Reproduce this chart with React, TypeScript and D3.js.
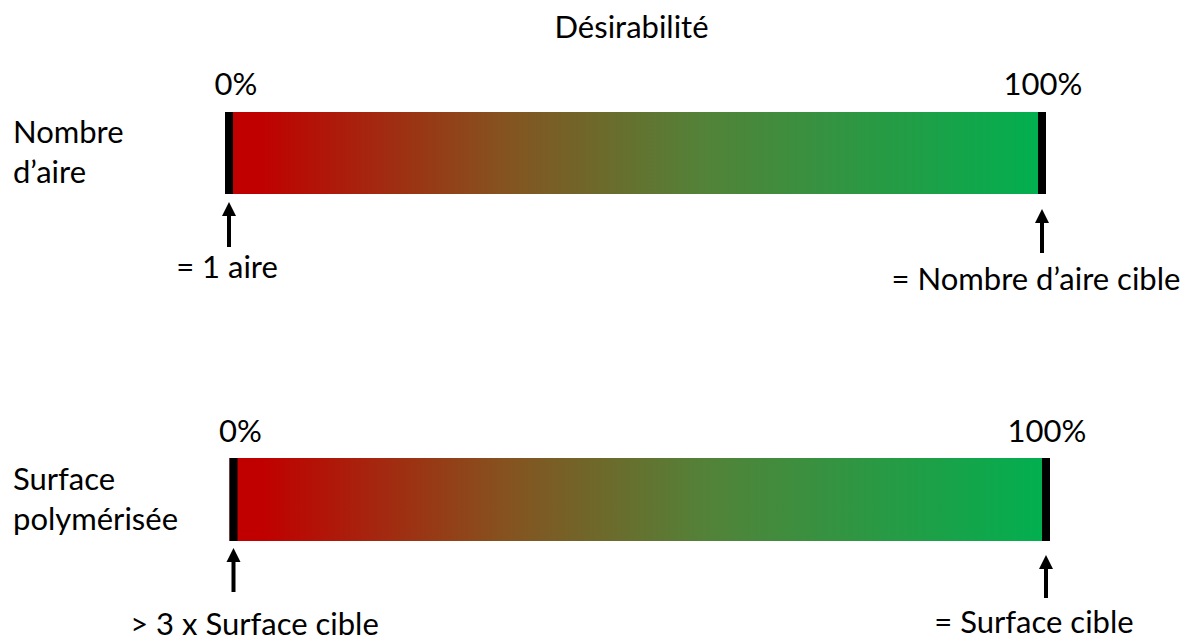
import React from "react";
import * as d3 from "d3";

const title = "Désirabilité";
const rowLabels = [["Nombre", "d’aire"], ["Surface", "polymérisée"]];
const tickValues = [0, 100];
const tickLabels = ["0%", "100%"];
const lowLabels = ["= 1 aire", "> 3 x Surface cible"];
const highLabels = ["= Nombre d’aire cible", "= Surface cible"];
const gradientStops = [
  { offset: 0, color: "#C00000" },
  { offset: 0.04, color: "#C00000" },
  { offset: 0.335, color: "#86521F" },
  { offset: 0.58, color: "#538238" },
  { offset: 1, color: "#00B050" },
];

// layout per row
const rows = [
  { x0: 229, x1: 1042, top: 112, h: 82, tickY: 95, labelY: 143, lowArrow: [202, 247], highArrow: [209, 253], lowY: 278, highY: 290, lowDx: -2, highDx: -6 },
  { x0: 233.5, x1: 1046, top: 458, h: 83, tickY: 442, labelY: 490, lowArrow: [548, 592], highArrow: [555, 598], lowY: 635, highY: 633, lowDx: 21, highDx: -12 },
];

const FONT = "Lato, 'Open Sans', sans-serif";
const FS = 31;

function Arrow({ x, y0, y1 }: { x: number; y0: number; y1: number }) {
  const hw = 7, hh = 14;
  return (
    <g>
      <line x1={x} x2={x} y1={y0 + hh - 1} y2={y1} stroke="#000" strokeWidth={4} />
      <path d={`M${x},${y0} L${x + hw},${y0 + hh} L${x - hw},${y0 + hh} Z`} fill="#000" />
    </g>
  );
}

export default function App() {
  const W = 1196, H = 641;
  const markW = 8;
  return (
    <svg width={W} height={H} style={{ position: "absolute", left: 0, top: 0 }} fontFamily={FONT}>
      <defs>
        <linearGradient id="grad" x1="0" x2="1" y1="0" y2="0">
          {gradientStops.map((s, i) => (
            <stop key={i} offset={s.offset} stopColor={s.color} />
          ))}
        </linearGradient>
      </defs>
      <rect width={W} height={H} fill="#fff" />
      <text x={631.5} y={38} textAnchor="middle" fontSize={FS} fill="#000">{title}</text>
      {rows.map((r, i) => {
        const x = d3.scaleLinear().domain([0, 100]).range([r.x0, r.x1]);
        const left = x(0) - markW / 2;
        const right = x(100) + markW / 2;
        return (
          <g key={i}>
            {rowLabels[i].map((t, j) => (
              <text key={j} x={13} y={r.labelY + j * 40} fontSize={FS} fill="#000">{t}</text>
            ))}
            <rect x={left} y={r.top} width={right - left} height={r.h} fill="url(#grad)" />
            {tickValues.map((v, k) => (
              <g key={k}>
                <rect x={x(v) - markW / 2} y={r.top} width={markW} height={r.h} fill="#000" />
                <text x={x(v) + (k === 0 ? 7 : 1)} y={r.tickY} textAnchor="middle" fontSize={FS} fill="#000">{tickLabels[k]}</text>
              </g>
            ))}
            <Arrow x={x(0)} y0={r.lowArrow[0]} y1={r.lowArrow[1]} />
            <Arrow x={x(100)} y0={r.highArrow[0]} y1={r.highArrow[1]} />
            <text x={x(0) + r.lowDx} y={r.lowY} textAnchor="middle" fontSize={FS} fill="#000">{lowLabels[i]}</text>
            <text x={x(100) + r.highDx} y={r.highY} textAnchor="middle" fontSize={FS} fill="#000">{highLabels[i]}</text>
          </g>
        );
      })}
    </svg>
  );
}
